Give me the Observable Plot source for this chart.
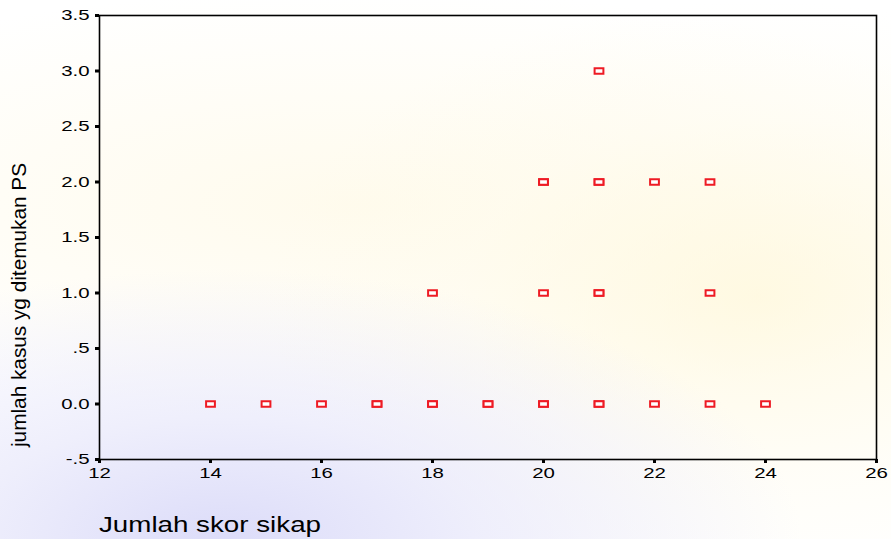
<!DOCTYPE html>
<html>
<head>
<meta charset="utf-8">
<script src="https://cdn.jsdelivr.net/npm/d3@7"></script>
<script src="https://cdn.jsdelivr.net/npm/@observablehq/plot@0.6"></script>
<style>
  html, body { margin: 0; padding: 0; }
  body {
    width: 891px; height: 539px; overflow: hidden;
    background:
      radial-gradient(ellipse 65% 50% at 25% 100%, rgba(214,214,248,0.85) 0%, rgba(228,228,250,0.6) 45%, rgba(255,255,255,0) 100%),
      radial-gradient(ellipse 55% 55% at 85% 55%, rgba(255,246,210,0.6) 0%, rgba(255,250,230,0.3) 60%, rgba(255,255,255,0) 100%),
      radial-gradient(ellipse 80% 40% at 40% 38%, rgba(255,246,215,0.45) 0%, rgba(255,255,255,0) 100%),
      #ffffff;
  }
  svg { display: block; background: transparent !important; }
</style>
</head>
<body>
<div id="chart"></div>
<script>
// Data: Jumlah skor sikap (x) vs jumlah kasus yg ditemukan PS (y); duplicates are overlapping cases
const skorSikap   = [14, 15, 16, 17, 17, 18, 18, 19, 19, 20, 20, 21, 21, 22, 23, 24, 18, 20, 21, 21, 23, 20, 20, 21, 21, 22, 23, 21];
const jumlahKasus = [ 0,  0,  0,  0,  0,  0,  0,  0,  0,  0,  0,  0,  0,  0,  0,  0,  1,  1,  1,  1,  1,  2,  2,  2,  2,  2,  2,  3];

const xTicks = [12, 14, 16, 18, 20, 22, 24, 26];
const yTicks = [-0.5, 0, 0.5, 1, 1.5, 2, 2.5, 3, 3.5];
const yTickLabels = ["-.5", "0.0", ".5", "1.0", "1.5", "2.0", "2.5", "3.0", "3.5"];
const xTitle = "Jumlah skor sikap";
const yTitle = "jumlah kasus yg ditemukan PS";

const points = skorSikap.map((x, i) => ({x, y: jumlahKasus[i]}));

const rectSymbol = {
  draw(context) {
    context.rect(-4.4, -2.8, 8.8, 5.6);
  }
};

const W = 891, H = 539;
const plot = Plot.plot({
  width: W,
  height: H,
  marginLeft: 99,
  marginRight: 15,
  marginTop: 15,
  marginBottom: 80,
  style: {fontFamily: "Liberation Sans, Arial, sans-serif", color: "black", background: "transparent"},
  x: {domain: [12, 26]},
  y: {domain: [-0.5, 3.5]},
  marks: [
    Plot.frame({stroke: "black", strokeWidth: 1.6}),
    Plot.axisX({ticks: xTicks, tickSize: 4, tickPadding: 4, strokeWidth: 3, label: null}),
    Plot.axisY({ticks: yTicks, tickSize: 4, tickPadding: 6, strokeWidth: 3,
      tickFormat: d => yTickLabels[yTicks.indexOf(d)], label: null}),
    Plot.dot(points, {x: "x", y: "y", symbol: rectSymbol, stroke: "#ee1b24", strokeWidth: 2, fill: "white"})
  ]
});

document.getElementById("chart").appendChild(plot);
const svg = d3.select(plot);

// tick labels: larger and stretched horizontally like the original (image was widened)
svg.selectAll("text").each(function() {
  const t = d3.select(this);
  t.attr("font-size", 15).style("font-size", "15px");
  const len = this.getComputedTextLength();
  t.attr("textLength", len * 1.36).attr("lengthAdjust", "spacingAndGlyphs");
});

// axis titles
svg.append("text")
  .attr("x", 99).attr("y", 532)
  .attr("text-anchor", "start")
  .style("font-size", "22px")
  .attr("fill", "black")
  .attr("textLength", 222).attr("lengthAdjust", "spacingAndGlyphs")
  .text(xTitle);

svg.append("text")
  .attr("transform", "translate(26,305) rotate(-90)")
  .attr("text-anchor", "middle")
  .style("font-size", "21px")
  .attr("fill", "black")
  .attr("textLength", 284).attr("lengthAdjust", "spacingAndGlyphs")
  .text(yTitle);
</script>
</body>
</html>
